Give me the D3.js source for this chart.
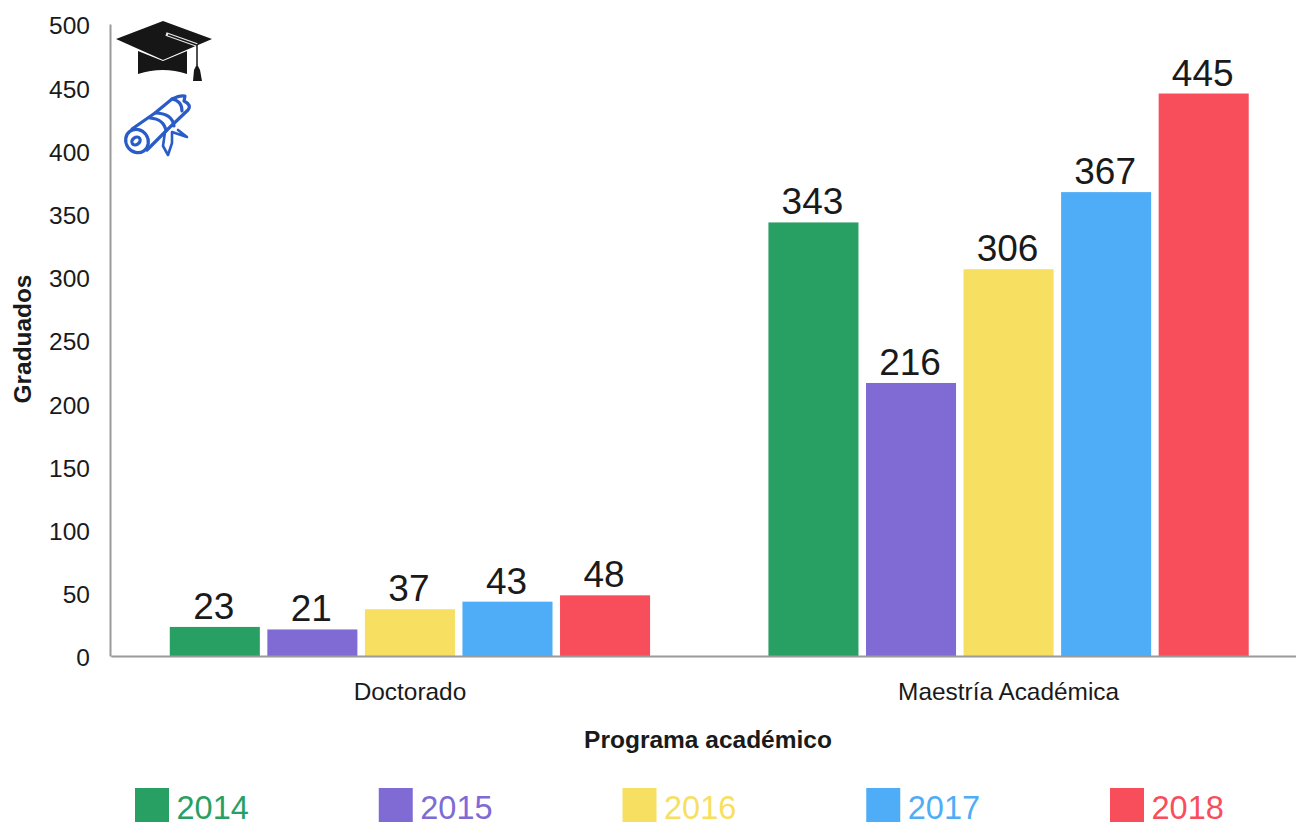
<!DOCTYPE html>
<html>
<head>
<meta charset="utf-8">
<script src="https://cdn.jsdelivr.net/npm/d3@7"></script>
<style>
body { margin: 0; background: #fff; }
svg { display: block; font-family: "Liberation Sans", Arial, sans-serif; }
</style>
</head>
<body>
<div id="chart"></div>
<script>
var programs = ['Doctorado', 'Maestría Académica'];
var years = ['2014', '2015', '2016', '2017', '2018'];
var doctorado = [23, 21, 37, 43, 48];
var maestria = [343, 216, 306, 367, 445];
var colors = ['#289F63', '#806BD5', '#F7DF62', '#4FADF7', '#F84E5C'];
var yTicks = [0, 50, 100, 150, 200, 250, 300, 350, 400, 450, 500];
var seriesByProgram = [doctorado, maestria];

var width = 1296, height = 822;
var margin = { top: 24, left: 110, bottom: 166 };
var baseline = height - margin.bottom;

var canvas = d3.select('#chart')
    .append('svg')
    .attr('width', width)
    .attr('height', height);

var y = d3.scaleLinear().domain([0, 500]).range([baseline, margin.top]);

// the last band runs past the right edge, same as the picture
var x0 = d3.scaleBand().domain(programs).range([110.75, 1307.75])
    .paddingInner(0.1977).paddingOuter(0.0986);
var x1 = d3.scaleBand().domain(years).range([0, x0.bandwidth()])
    .paddingInner(0.077).paddingOuter(0);

var groups = canvas.selectAll('g.program')
    .data(programs)
    .enter()
    .append('g')
    .attr('class', 'program')
    .attr('transform', function (d) { return 'translate(' + x0(d) + ',0)'; });

var bars = groups.selectAll('g.bar')
    .data(function (d, i) {
        return seriesByProgram[i].map(function (v, j) {
            return { year: years[j], value: v, color: colors[j] };
        });
    })
    .enter()
    .append('g')
    .attr('class', 'bar');

bars.append('rect')
    .attr('x', function (d) { return x1(d.year); })
    .attr('y', function (d) { return y(d.value); })
    .attr('width', x1.bandwidth())
    .attr('height', function (d) { return baseline - y(d.value); })
    .attr('fill', function (d) { return d.color; });

bars.append('text')
    .attr('x', function (d) { return x1(d.year) + x1.bandwidth() / 2 - 1; })
    .attr('y', function (d) { return y(d.value) - 8; })
    .attr('text-anchor', 'middle')
    .attr('font-size', 37)
    .attr('fill', '#1a1a1a')
    .text(function (d) { return d.value; });

// axes
var yAxis = canvas.append('g')
    .attr('transform', 'translate(' + margin.left + ',0)')
    .call(d3.axisLeft(y).tickValues(yTicks).tickSize(0).tickPadding(20));
yAxis.select('.domain').attr('stroke', '#9a9a9a').attr('stroke-width', 2);
yAxis.selectAll('text')
    .attr('font-size', 24.5)
    .attr('font-family', '"Liberation Sans", Arial, sans-serif')
    .attr('fill', '#1a1a1a')
    .attr('dy', '0.4em');

var xAxis = canvas.append('g')
    .attr('transform', 'translate(0,' + baseline + ')')
    .call(d3.axisBottom(x0).tickSize(0).tickPadding(27));
xAxis.select('.domain').attr('stroke', '#9a9a9a').attr('stroke-width', 2);
xAxis.selectAll('text')
    .attr('font-size', 24.4)
    .attr('font-family', '"Liberation Sans", Arial, sans-serif')
    .attr('fill', '#1a1a1a');

// axis titles
canvas.append('text')
    .attr('x', 708)
    .attr('y', 748)
    .attr('text-anchor', 'middle')
    .attr('font-size', 24.5)
    .attr('font-weight', 'bold')
    .attr('fill', '#1a1a1a')
    .text('Programa académico');

canvas.append('text')
    .attr('transform', 'translate(31,339) rotate(-90)')
    .attr('text-anchor', 'middle')
    .attr('font-size', 24.4)
    .attr('font-weight', 'bold')
    .attr('fill', '#1a1a1a')
    .text('Graduados');

// legend, cut by the bottom of the page like the picture
var legendX = d3.scalePoint().domain(years).range([135, 1110]);
var legend = canvas.selectAll('g.legend')
    .data(years)
    .enter()
    .append('g')
    .attr('class', 'legend')
    .attr('transform', function (d) { return 'translate(' + legendX(d) + ',788)'; });
legend.append('rect')
    .attr('width', 34)
    .attr('height', 34)
    .attr('fill', function (d, i) { return colors[i]; });
legend.append('text')
    .attr('x', 41.5)
    .attr('y', 31)
    .attr('font-size', 32.5)
    .attr('fill', function (d, i) { return colors[i]; })
    .text(function (d) { return d; });

// graduation cap
var cap = canvas.append('g').attr('class', 'cap');
cap.append('path')
    .attr('d', 'M116,39 L163,21 L212,39 L163,60 Z')
    .attr('fill', '#161616');
cap.append('path')
    .attr('d', 'M138,51 L163,61 L187,51 L187,74 Q163,66 138,74 Z')
    .attr('fill', '#161616');
cap.append('path')
    .attr('d', 'M166,34 L197,45')
    .attr('stroke', '#e8e8e8')
    .attr('stroke-width', 3.5)
    .attr('fill', 'none');
cap.append('path')
    .attr('d', 'M168,34.7 L197,45 L197,65')
    .attr('stroke', '#161616')
    .attr('stroke-width', 1.5)
    .attr('fill', 'none');
cap.append('path')
    .attr('d', 'M197,64 L200,70 L202,81 L193,81 L194,70 Z')
    .attr('fill', '#161616');

// diploma
var diploma = canvas.append('g')
    .attr('class', 'diploma')
    .attr('fill', 'none')
    .attr('stroke', '#2A5CC8')
    .attr('stroke-width', 3.2)
    .attr('stroke-linejoin', 'round')
    .attr('stroke-linecap', 'round');
diploma.append('ellipse')
    .attr('cx', 137)
    .attr('cy', 141)
    .attr('rx', 11)
    .attr('ry', 12)
    .attr('transform', 'rotate(-35 137 141)');
diploma.append('ellipse')
    .attr('cx', 136)
    .attr('cy', 141)
    .attr('rx', 4.5)
    .attr('ry', 3.5)
    .attr('transform', 'rotate(-35 136 141)');
diploma.append('path')
    .attr('d', 'M132,129 L155,113 L172,99 Q180,95 185,96 L184,101 Q192,105 188,110 L168,129 L147,150');
diploma.append('path')
    .attr('d', 'M155,113 Q172,113 174,126 M150,118 Q164,119 166,131 M172,99 Q182,101 182,111');
diploma.append('path')
    .attr('d', 'M165,132 L163,146 L168,155 L172,143 L172,132 L187,137 L178,130')
    .attr('stroke-width', 2.6);
</script>
</body>
</html>
